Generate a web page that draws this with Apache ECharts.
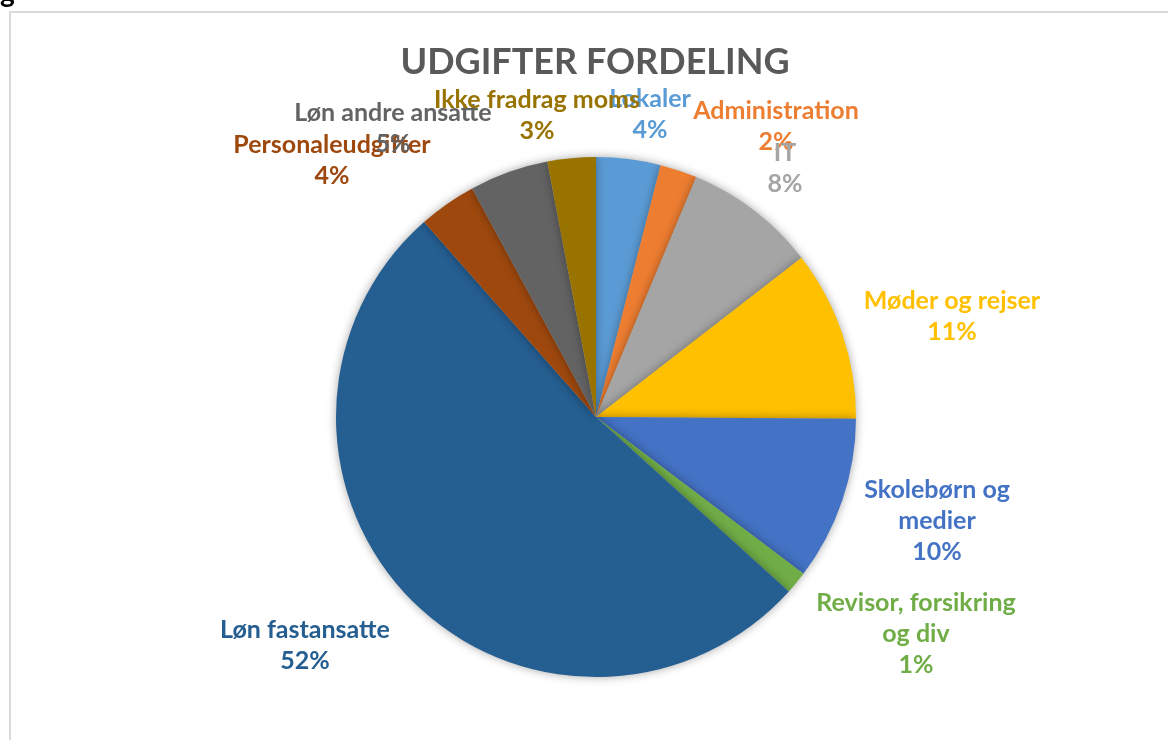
<!DOCTYPE html>
<html>
<head>
<meta charset="utf-8">
<script src="https://cdn.jsdelivr.net/npm/echarts@6/dist/echarts.min.js"></script>
<style>
html,body{margin:0;padding:0;background:#fff;}
#c{width:1168px;height:740px;}
</style>
</head>
<body>
<div id="c"></div>
<script>
const categories = ["Lokaler","Administration","IT","Møder og rejser","Skolebørn og medier","Revisor, forsikring og div","Løn fastansatte","Personaleudgifter","Løn andre ansatte","Ikke fradrag moms"];
const labelText = ["Lokaler","Administration","IT","Møder og rejser","Skolebørn og\nmedier","Revisor, forsikring\nog div","Løn fastansatte","Personaleudgifter","Løn andre ansatte","Ikke fradrag moms"];
const values = [4.0, 2.3, 8.2, 10.6, 10.2, 1.4, 51.8, 3.6, 4.9, 3.0];
const colors = ["#5B9BD5","#ED7D31","#A5A5A5","#FFC000","#4472C4","#70AD47","#255E91","#9E480E","#636363","#997300"];
const labelCenters = [[650,114],[776,126],[785,168],[952,316],[937,521],[916,634],[305,645],[332,160],[393,128],[537,115]];

const chart = echarts.init(document.getElementById('c'), null, {renderer:'canvas'});
const total = values.reduce((a,b)=>a+b,0);
chart.setOption({
  backgroundColor:'#fff',
  animation:false,
  title:{
    text:'UDGIFTER FORDELING',
    left:590, top:39, textAlign:'center',
    textStyle:{fontFamily:'Lato, "Open Sans", sans-serif',fontWeight:'bold',fontSize:36,color:'#595959'}
  },
  graphic:[
    {type:'line',shape:{x1:9,y1:12,x2:1168,y2:12},style:{stroke:'#d9d9d9',lineWidth:2},silent:true},
    {type:'line',shape:{x1:10,y1:12,x2:10,y2:740},style:{stroke:'#d9d9d9',lineWidth:2},silent:true},
    {type:'text',left:0,top:-21,style:{text:'g',fontFamily:'Lato, sans-serif',fontWeight:'bold',fontSize:28,fill:'#000'}}
  ],
  series:[{
    type:'pie',
    center:[596,417],
    radius:260,
    startAngle:90,
    clockwise:true,
    avoidLabelOverlap:false,
    itemStyle:{shadowBlur:10,shadowColor:'rgba(0,0,0,0.35)',borderWidth:0},
    labelLine:{show:false},
    label:{
      show:true,
      position:'outside',
      fontFamily:'Lato, "Open Sans", sans-serif',
      fontWeight:'bold',
      fontSize:25,
      lineHeight:31,
      align:'center',
      formatter:function(p){return labelText[p.dataIndex]+'\n'+Math.round(p.value/total*100)+'%';}
    },
    labelLayout:function(p){
      const c = labelCenters[p.dataIndex];
      return {x:c[0], y:c[1], align:'center', verticalAlign:'middle'};
    },
    data:categories.map((n,i)=>({name:n,value:values[i],itemStyle:{color:colors[i]},label:{color:colors[i]}}))
  }]
});
</script>
</body>
</html>
